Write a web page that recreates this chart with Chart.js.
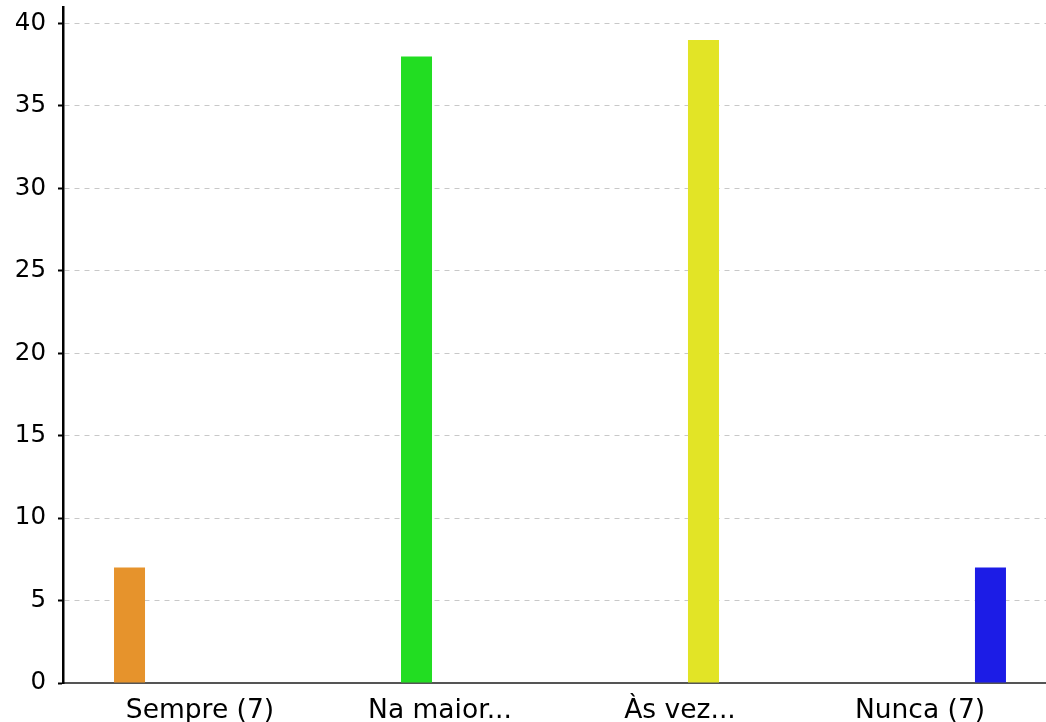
<!DOCTYPE html>
<html>
<head>
<meta charset="utf-8">
<script src="https://cdn.jsdelivr.net/npm/chart.js@4"></script>
<style>
  html, body { margin: 0; padding: 0; background: #fff; }
  #wrap { width: 1046px; height: 722px; }
</style>
</head>
<body>
<div id="wrap"><canvas id="barChart" width="1046" height="722"></canvas></div>
<script>
const categories = ["Sempre (7)", "Na maior...", "Às vez...", "Nunca (7)"];
const counts = [7, 38, 39, 7];
const barColors = ["#e6932c", "#22dd22", "#e2e426", "#1c1ce6"];
const yTicksStep = 5;

function renderChart() {
  const ctx = document.getElementById("barChart").getContext("2d");

  // one dataset per answer so every bar keeps its own slot in the group
  const datasets = categories.map((c, i) => ({
    label: c,
    data: [{ x: i, y: counts[i] }],
    backgroundColor: barColors[i],
    borderWidth: 0,
    categoryPercentage: 0.783,
    barPercentage: 0.66,
  }));

  new Chart(ctx, {
    type: "bar",
    data: { datasets },
    options: {
      responsive: false,
      maintainAspectRatio: false,
      animation: false,
      layout: { padding: { top: 7, left: 0, right: 0, bottom: 0 } },
      plugins: {
        legend: { display: false },
        tooltip: { enabled: false },
      },
      scales: {
        x: {
          type: "linear",
          offset: false,
          min: -0.5708,
          max: 3.525,
          grid: { display: false, drawTicks: false, offset: false },
          border: { display: true, color: "#555", width: 2 },
          ticks: {
            stepSize: 1,
            includeBounds: false,
            autoSkip: false,
            maxRotation: 0,
            padding: 12,
            color: "#000",
            font: { family: "DejaVu Sans", size: 26.5 },
            callback: v => categories[v] ?? "",
          },
          afterFit: s => { s.height = 39; s.paddingLeft = 0; s.paddingRight = 0; },
        },
        y: {
          min: 0,
          max: 41,
          grid: {
            color: c => (c.tick && c.tick.value === 0 ? "#333" : "#c8c8c8"),
            lineWidth: 1,
            tickColor: "#000",
            tickWidth: 2,
            tickLength: 5,
            tickBorderDash: [],
          },
          border: { display: true, color: "#000", width: 2.5, dash: [5, 5] },
          ticks: {
            stepSize: yTicksStep,
            includeBounds: false,
            padding: 12,
            color: "#000",
            font: { family: "DejaVu Sans", size: 24.5 },
          },
          afterFit: s => { s.width = 63; s.paddingTop = 0; s.paddingBottom = 0; },
        },
      },
    },
  });
}

renderChart();
</script>
</body>
</html>
